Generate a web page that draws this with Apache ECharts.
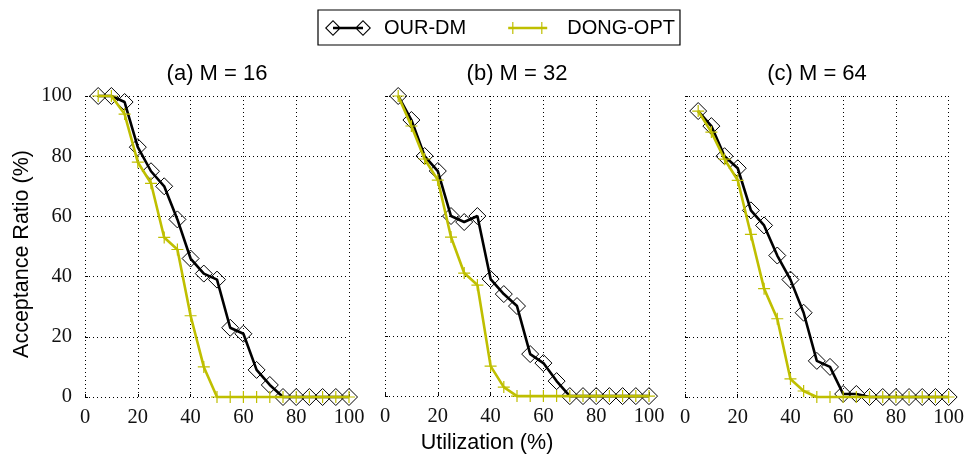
<!DOCTYPE html>
<html>
<head>
<meta charset="utf-8">
<script src="https://cdn.jsdelivr.net/npm/echarts@6/dist/echarts.min.js"></script>
<style>html,body{margin:0;padding:0;background:#fff}#c{width:967px;height:459px}</style>
</head>
<body>
<div id="c"></div>
<script>
const utilization = [5,10,15,20,25,30,35,40,45,50,55,60,65,70,75,80,85,90,95,100];
const panelTitles = ['(a) M = 16', '(b) M = 32', '(c) M = 64'];
const xTicks = [0,20,40,60,80,100];
const yTicks = [0,20,40,60,80,100];
const ourA  = [100,100,98,83,75,70,59,46,41,39,23,21,9,4,0,0,0,0,0,0];
const dongA = [100,100,94,78,71,53,49,27,10,0,0,0,0,0,0,0,0,0,0,0];
const ourB  = [100,92,80,75,60,58,60,39,34,30,14,11,5,0,0,0,0,0,0,0];
const dongB = [100,90,79,72,53,41,37,10,3,0,0,0,0,0,0,0,0,0,0,0];
const ourC  = [95,90,80,76,62,57,47,39,28,12,10,1,1,0,0,0,0,0,0,0];
const dongC = [95,88,79,72,54,36,26,6,2,0,0,0,0,0,0,0,0,0,0,0];

const ourSeries = [ourA, ourB, ourC];
const dongSeries = [dongA, dongB, dongC];

const gridLefts = [85, 385, 685];
const gridW = 264;
const serif = "'Liberation Serif', 'DejaVu Serif', serif";
const sans = "'Liberation Sans', Arial, sans-serif";
const YELLOW = '#bfbf00';
const dotted = {color: '#000', width: 1, type: [1, 3]};

// legend icons: line with a marker at each end (46 x 16 box)
const ourIcon = 'path://M0,8 L8,0 L16,8 L8,16 Z M1.6,8 L8,14.4 L14.4,8 L8,1.6 Z ' +
  'M30,8 L38,0 L46,8 L38,16 Z M31.6,8 L38,14.4 L44.4,8 L38,1.6 Z ' +
  'M8,6.7 L38,6.7 L38,9.3 L8,9.3 Z';
const dongIcon = 'path://M0,0 L0.01,0 L0.01,0.01 Z M46,16 L45.99,16 L45.99,15.99 Z ' +
  'M0,6.8 L39,6.8 L39,9.2 L0,9.2 Z M4,2 L5.2,2 L5.2,14 L4,14 Z M33,2 L34.2,2 L34.2,14 L33,14 Z';

const grids = gridLefts.map(l => ({left: l, width: gridW, top: 96, height: 301}));
const xAxes = gridLefts.map((l, i) => ({
  type: 'value', gridIndex: i, min: 0, max: 100, interval: 20,
  axisLine: {show: false},
  axisTick: {show: true, inside: true, length: 3, lineStyle: {color: '#000'}},
  splitLine: {show: true, lineStyle: dotted},
  axisLabel: {fontFamily: serif, fontSize: 20.5, color: '#111', margin: 10},
  name: i === 1 ? 'Utilization (%)' : '',
  nameLocation: 'middle', nameGap: 34,
  nameTextStyle: {fontFamily: sans, fontSize: 21.5, color: '#000', padding: [0, 60, 0, 0]}
}));
const yAxes = gridLefts.map((l, i) => ({
  type: 'value', gridIndex: i, min: 0, max: 100, interval: 20,
  axisLine: {show: false},
  axisTick: {show: true, inside: true, length: 3, lineStyle: {color: '#000'}},
  splitLine: {show: true, lineStyle: dotted},
  axisLabel: {show: i === 0, fontFamily: serif, fontSize: 20.5, color: '#111', margin: 13},
  name: i === 0 ? 'Acceptance Ratio (%)' : '',
  nameLocation: 'middle', nameRotate: 90, nameGap: 52,
  nameTextStyle: {fontFamily: sans, fontSize: 21.5, color: '#000', padding: [0, 15, 0, 0]}
}));

const series = [];
for (let i = 0; i < 3; i++) {
  series.push({
    name: 'OUR-DM', type: 'line', xAxisIndex: i, yAxisIndex: i,
    data: utilization.map((u, k) => [u, ourSeries[i][k]]),
    symbol: 'diamond', symbolSize: [17, 17], showAllSymbol: true,
    lineStyle: {color: '#000', width: 2.6},
    itemStyle: {color: 'rgba(255,255,255,0)', borderColor: '#000', borderWidth: 1},
    z: 2, clip: false
  });
}
for (let i = 0; i < 3; i++) {
  series.push({
    name: 'DONG-OPT', type: 'line', xAxisIndex: i, yAxisIndex: i,
    data: utilization.map((u, k) => [u, dongSeries[i][k]]),
    symbol: 'path://M5,0 L5,10 M0,5 L10,5', symbolSize: [12, 12], showAllSymbol: true,
    lineStyle: {color: YELLOW, width: 2.6},
    itemStyle: {color: 'none', borderColor: YELLOW, borderWidth: 1.2},
    z: 3, clip: false
  });
}

const chart = echarts.init(document.getElementById('c'), null, {renderer: 'canvas'});
chart.setOption({
  animation: false,
  backgroundColor: '#fff',
  title: panelTitles.map((t, i) => ({
    text: t, left: gridLefts[i] + gridW / 2, top: 63, textAlign: 'center', padding: 0,
    textStyle: {fontFamily: sans, fontSize: 22, fontWeight: 'normal', color: '#000'}
  })),
  legend: {
    data: [
      {name: 'OUR-DM', icon: ourIcon, itemStyle: {color: '#000', borderWidth: 0}},
      {name: 'DONG-OPT', icon: dongIcon, itemStyle: {color: YELLOW, borderWidth: 0}}
    ],
    left: 318, top: 10,
    padding: [8, 5, 7, 7],
    borderColor: '#000', borderWidth: 1.2,
    itemWidth: 46, itemHeight: 16, itemGap: 42,
    textStyle: {fontFamily: sans, fontSize: 20, color: '#000', padding: [0, 0, 0, 8]}
  },
  grid: grids,
  xAxis: xAxes,
  yAxis: yAxes,
  series: series
});
</script>
</body>
</html>
